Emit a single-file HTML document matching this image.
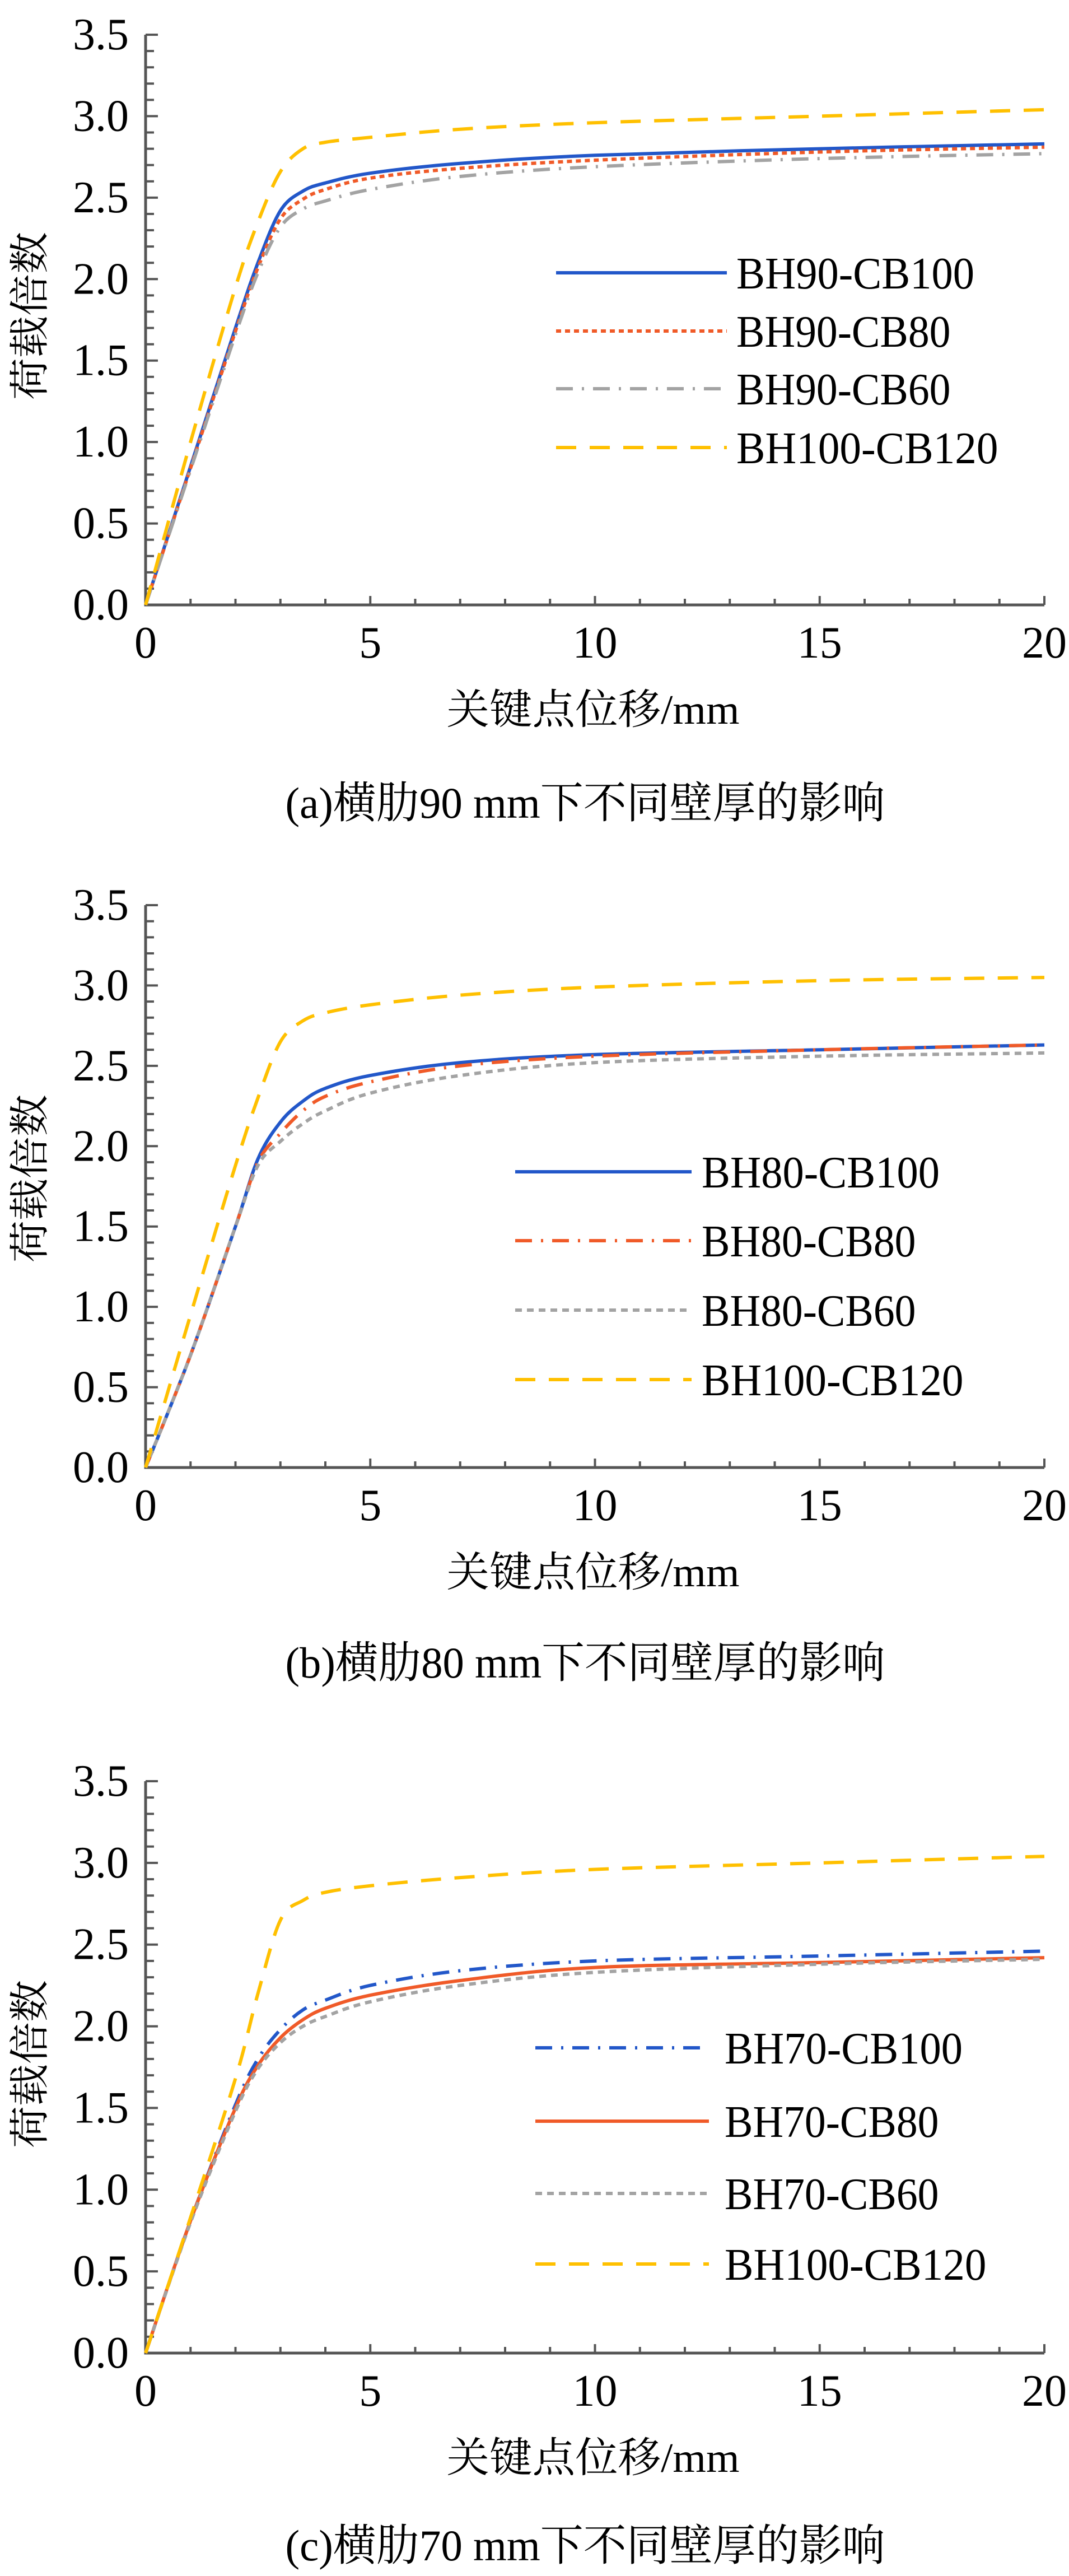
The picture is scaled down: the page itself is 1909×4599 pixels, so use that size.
<!DOCTYPE html>
<html><head><meta charset="utf-8">
<style>
html,body{margin:0;padding:0;background:#fff;}
svg{display:block;}
svg text{font-family:"Liberation Serif","Noto Serif CJK SC",serif;fill:#000;}
</style></head>
<body>
<svg id="fig" width="1909" height="4599" viewBox="0 0 1909 4599" xmlns="http://www.w3.org/2000/svg"></svg>
<script>
// ---- data ----
const xTicks = [0,5,10,15,20];
const yTicks = ["0.0","0.5","1.0","1.5","2.0","2.5","3.0","3.5"];
const xValues = [0,1,2,2.5,3,3.5,4,5,7,10,15,20];

const a_names = ["BH90-CB100","BH90-CB80","BH90-CB60","BH100-CB120"];
const a_s1 = [0,0.85,1.7,2.1,2.42,2.54,2.59,2.65,2.71,2.76,2.8,2.83];
const a_s2 = [0,0.84,1.68,2.07,2.37,2.49,2.55,2.62,2.68,2.73,2.78,2.81];
const a_s3 = [0,0.83,1.66,2.04,2.32,2.43,2.48,2.55,2.63,2.69,2.74,2.77];
const a_s4 = [0,1.0,1.95,2.35,2.66,2.8,2.84,2.87,2.92,2.96,3.0,3.04];

const b_names = ["BH80-CB100","BH80-CB80","BH80-CB60","BH100-CB120"];
const b_s1 = [0,0.7,1.5,1.92,2.15,2.28,2.36,2.44,2.52,2.57,2.6,2.63];
const b_s2 = [0,0.7,1.5,1.9,2.08,2.22,2.31,2.4,2.5,2.56,2.6,2.63];
const b_s3 = [0,0.7,1.5,1.88,2.03,2.14,2.22,2.33,2.44,2.52,2.56,2.58];
const b_s4 = [0,0.95,1.88,2.3,2.65,2.78,2.83,2.88,2.94,2.99,3.03,3.05];

const c_names = ["BH70-CB100","BH70-CB80","BH70-CB60","BH100-CB120"];
const c_s1 = [0,0.81,1.52,1.8,1.98,2.1,2.16,2.25,2.34,2.4,2.43,2.46];
const c_s2 = [0,0.81,1.5,1.76,1.93,2.04,2.11,2.19,2.28,2.36,2.39,2.42];
const c_s3 = [0,0.8,1.48,1.74,1.9,2.0,2.06,2.15,2.25,2.33,2.38,2.41];
const c_s4 = [0,0.83,1.68,2.2,2.65,2.77,2.82,2.86,2.91,2.96,3.0,3.04];

const NS = "http://www.w3.org/2000/svg";
const svg = document.getElementById('fig');
const FONT = "'Liberation Serif', 'Noto Serif CJK SC', serif";
function mk(tag, attrs, parent){
  const e = document.createElementNS(NS, tag);
  for (const k in attrs) e.setAttribute(k, attrs[k]);
  if (tag === 'text') e.setAttribute('font-family', FONT);
  (parent||svg).appendChild(e);
  return e;
}
function pathFrom(pts){
  let d = "M"+pts[0][0].toFixed(1)+","+pts[0][1].toFixed(1);
  for (let i=0;i<pts.length-1;i++){
    const p0=pts[Math.max(0,i-1)], p1=pts[i], p2=pts[i+1], p3=pts[Math.min(pts.length-1,i+2)];
    const c1=[p1[0]+(p2[0]-p0[0])/6, p1[1]+(p2[1]-p0[1])/6];
    const c2=[p2[0]-(p3[0]-p1[0])/6, p2[1]-(p3[1]-p1[1])/6];
    d += " C"+c1[0].toFixed(1)+","+c1[1].toFixed(1)+" "+c2[0].toFixed(1)+","+c2[1].toFixed(1)+" "+p2[0].toFixed(1)+","+p2[1].toFixed(1);
  }
  return d;
}
const BLUE="#2257c9", ORANGE="#f05a28", GRAY="#a3a3a3", YEL="#ffc000";
const SOLID="none", DOT="9,7", DASHDOT="30,16,4,16", DASH="36,24", SDOT="12,9";

function chart(id, top, bottom, captionText, names, series, styles, legend){
  const L=260, R=1865;
  const g = mk('g', {});
  
  
  const xs = v => L + (R-L)*v/20;
  const ys = v => bottom - (bottom-top)*v/3.5;
  for (let i=0;i<=35;i++){
    const y = ys(i/10), major = i%5===0;
    mk('line',{x1:L,x2:L+(major?22:15),y1:y,y2:y,stroke:"#555","stroke-width":4},g);
  }
  for (let i=0;i<=20;i++){
    const x = xs(i), major = i%5===0;
    mk('line',{x1:x,x2:x,y1:bottom,y2:bottom-(major?16:11),stroke:"#555","stroke-width":4},g);
  }
  const ax = mk('path',{d:`M${L},${top} L${L},${bottom} L${R},${bottom}`,fill:"none",stroke:"#555","stroke-width":5},g);
  
  
  yTicks.forEach((t,i)=>{
    const tx = mk('text',{x:230,y:ys(i*0.5)+26,"text-anchor":"end","font-size":80},g);
    tx.textContent=t;
    
    
  });
  xTicks.forEach(t=>{
    const tx = mk('text',{x:xs(t),y:bottom+94,"text-anchor":"middle","font-size":80},g);
    tx.textContent=String(t);
    
    
  });
  series.forEach((s,k)=>{
    const pts = xValues.map((xv,i)=>[xs(xv), ys(s[i])]);
    const p = mk('path',{d:pathFrom(pts),fill:"none",stroke:styles[k][0],"stroke-width":6,"stroke-dasharray":styles[k][1],"stroke-linecap":"butt"},g);
    
    
  });
  names.forEach((n,k)=>{
    const y = bottom + legend.rows[k];
    const ln = mk('line',{x1:legend.x1,x2:legend.x2,y1:y,y2:y,stroke:styles[k][0],"stroke-width":6,"stroke-dasharray":styles[k][1]},g);
    
    
    const tx = mk('text',{x:legend.tx,y:y+28,"font-size":80,textLength:n.length*42.5,lengthAdjust:"spacingAndGlyphs"},g);
    tx.textContent=n;
    
    
  });
  const yt = mk('text',{x:0,y:0,"font-size":72,"text-anchor":"middle",transform:`translate(78,${bottom-516}) rotate(-90)`,textLength:300,lengthAdjust:"spacingAndGlyphs"},g);
  yt.textContent="荷载倍数";
  
  
  const xt = mk('text',{x:1059,y:bottom+212,"font-size":74,"text-anchor":"middle",textLength:523,lengthAdjust:"spacingAndGlyphs"},g);
  xt.textContent="关键点位移/mm";
  
  
  const cp = mk('text',{x:1045,y:bottom+legend.cap,"font-size":78,"text-anchor":"middle",textLength:1071,lengthAdjust:"spacingAndGlyphs"},g);
  cp.textContent=captionText;
  
  
}

chart('a',62,1080,"(a)横肋90 mm下不同壁厚的影响",a_names,[a_s1,a_s2,a_s3,a_s4],
  [[BLUE,SOLID],[ORANGE,DOT],[GRAY,DASHDOT],[YEL,DASH]],
  {x1:993,x2:1298,tx:1315,rows:[-593,-489,-386,-281],cap:380});
chart('b',1616,2620,"(b)横肋80 mm下不同壁厚的影响",b_names,[b_s1,b_s2,b_s3,b_s4],
  [[BLUE,SOLID],[ORANGE,DASHDOT],[GRAY,SDOT],[YEL,DASH]],
  {x1:920,x2:1235,tx:1253,rows:[-528,-405,-281,-157],cap:375});
chart('c',3180,4201,"(c)横肋70 mm下不同壁厚的影响",c_names,[c_s1,c_s2,c_s3,c_s4],
  [[BLUE,DASHDOT],[ORANGE,SOLID],[GRAY,SDOT],[YEL,DASH]],
  {x1:956,x2:1266,tx:1294,rows:[-545,-414,-285,-159],cap:370});
</script>
</body></html>
